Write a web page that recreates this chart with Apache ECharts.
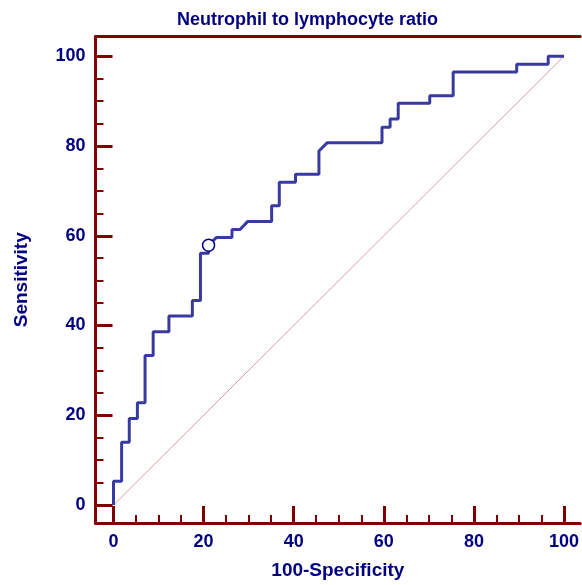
<!DOCTYPE html>
<html>
<head>
<meta charset="utf-8">
<script src="https://cdn.jsdelivr.net/npm/echarts@6/dist/echarts.min.js"></script>
<style>
  html, body { margin: 0; padding: 0; background: #fff; }
  #main { width: 582px; height: 585px; }
</style>
</head>
<body>
<div id="main"></div>
<script>
// ROC step curve: 100-Specificity (x) and Sensitivity (y)
const fpr = [0, 0, 1.8, 1.8, 3.5, 3.5, 5.3, 5.3, 7.0, 7.0, 8.8, 8.8, 12.3, 12.3, 17.5, 17.5,
    19.3, 19.3, 21.1, 21.1, 22.8, 26.3, 26.3, 28.1, 29.8, 35.1, 35.1, 36.8, 36.8, 40.4, 40.4,
    45.6, 45.6, 47.4, 59.6, 59.6, 61.4, 61.4, 63.2, 63.2, 70.2, 70.2, 75.4, 75.4, 89.5, 89.5,
    96.5, 96.5, 100];
const sens = [0, 5.3, 5.3, 14.0, 14.0, 19.3, 19.3, 22.8, 22.8, 33.3, 33.3, 38.6, 38.6, 42.1, 42.1, 45.6,
    45.6, 56.1, 56.1, 57.9, 59.6, 59.6, 61.4, 61.4, 63.2, 63.2, 66.7, 66.7, 71.9, 71.9, 73.7,
    73.7, 78.9, 80.7, 80.7, 84.2, 84.2, 86.0, 86.0, 89.5, 89.5, 91.2, 91.2, 96.5, 96.5, 98.2,
    98.2, 100, 100];
const cutoffPoint = [21.1, 57.9];
const majorTicks = [0, 20, 40, 60, 80, 100];
const minorTicks = [5, 10, 15, 25, 30, 35, 45, 50, 55, 65, 70, 75, 85, 90, 95];

const axisColor = '#800000';
const textColor = '#000080';
const font = 'Arial, "Liberation Sans", sans-serif';

let curve = [];
for (let i = 0; i < fpr.length; i++) {
    curve.push([fpr[i], sens[i]]);
}

function mainAxis(pos, min, max, name, nameGap) {
    return {
        type: 'value', position: pos, min: min, max: max,
        name: name, nameLocation: 'middle', nameGap: nameGap,
        nameTextStyle: { color: textColor, fontWeight: 'bold', fontSize: 19, fontFamily: font },
        axisLine: { show: true, onZero: false, lineStyle: { color: axisColor, width: 3 } },
        axisTick: { show: true, inside: true, length: 17, customValues: majorTicks,
            lineStyle: { color: axisColor, width: 3 } },
        axisLabel: { show: true, customValues: majorTicks, margin: 10,
            color: textColor, fontWeight: 'bold', fontSize: 18, fontFamily: font },
        splitLine: { show: false }
    };
}

function minorAxis(pos, min, max) {
    return {
        type: 'value', position: pos, min: min, max: max,
        axisLine: { show: false, onZero: false },
        axisTick: { show: true, inside: true, length: 8, customValues: minorTicks,
            lineStyle: { color: axisColor, width: 2 } },
        axisLabel: { show: false },
        splitLine: { show: false }
    };
}

const chart = echarts.init(document.getElementById('main'));
chart.setOption({
    animation: false,
    title: {
        text: 'Neutrophil to lymphocyte ratio',
        left: 172, top: 6,
        textStyle: { color: textColor, fontWeight: 'bold', fontSize: 18, fontFamily: font }
    },
    grid: { left: 95.5, right: 0, top: 36.5, bottom: 62 },
    xAxis: [
        mainAxis('bottom', -4, 103.6, '100-Specificity', 38),
        minorAxis('bottom', -4, 103.6),
        { type: 'value', position: 'top', min: -4, max: 103.6,
          axisLine: { show: true, onZero: false, lineStyle: { color: axisColor, width: 3 } },
          axisTick: { show: false }, axisLabel: { show: false }, splitLine: { show: false } }
    ],
    yAxis: [
        mainAxis('left', -4, 104.4, 'Sensitivity', 64),
        minorAxis('left', -4, 104.4)
    ],
    series: [
        {
            type: 'line', data: [[0, 0], [100, 100]], symbol: 'none',
            lineStyle: { color: '#d8a0a0', width: 1 }, silent: true
        },
        {
            type: 'line', data: curve, symbol: 'none',
            lineStyle: { color: '#3a3a9e', width: 3 }
        },
        {
            type: 'scatter', data: [cutoffPoint], symbol: 'circle', symbolSize: 12, z: 5,
            itemStyle: { color: '#fff', borderColor: textColor, borderWidth: 1.5, opacity: 1 }
        }
    ]
});
</script>
</body>
</html>
